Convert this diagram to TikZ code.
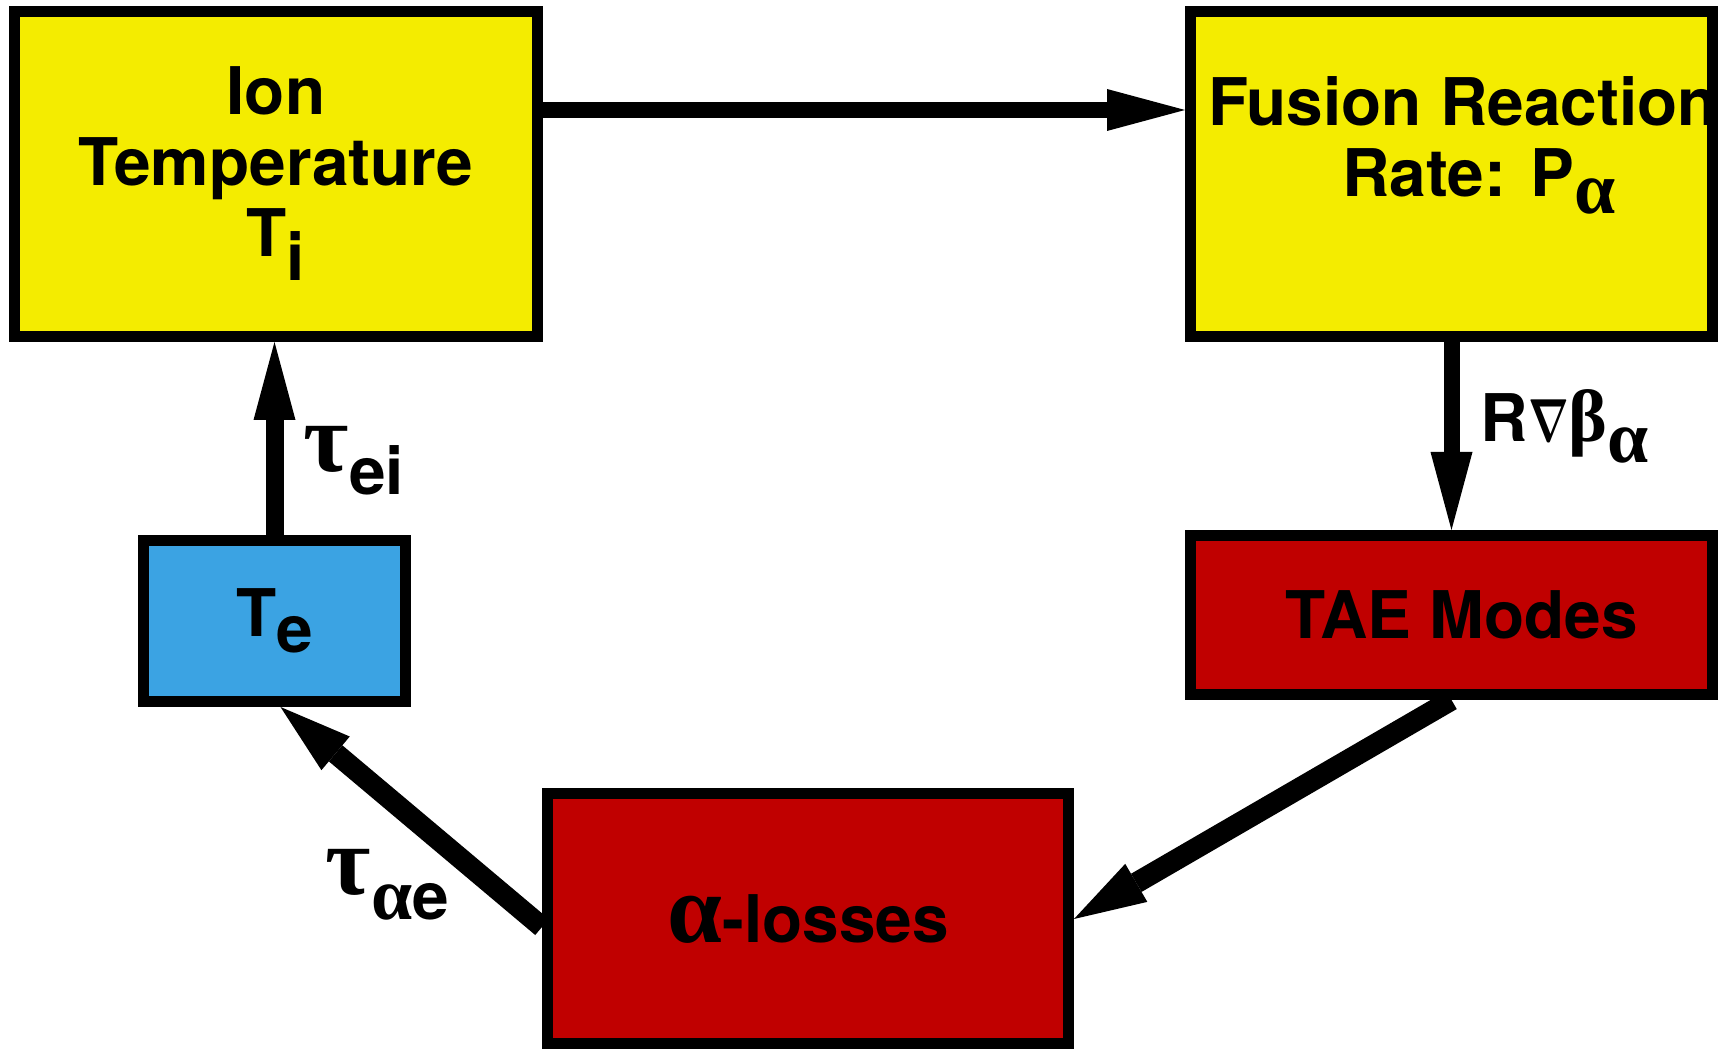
\documentclass[tikz,border=0pt]{standalone}
\usepackage{fontspec}
\usepackage{bm}
\setmainfont{TeX Gyre Heros}
\newfontfamily\grk{Liberation Serif}
\usetikzlibrary{arrows.meta,calc}
\definecolor{sun}{HTML}{F4EC00}
\definecolor{blood}{HTML}{C00000}
\definecolor{skyblue}{HTML}{3BA3E3}
\newcommand{\gk}[2][28]{{\grk\bfseries\fontsize{#1}{#1}\selectfont #2}}
\newcommand{\lo}[2][2.4mm]{\raisebox{-#1}{#2}}

\begin{document}
\begin{tikzpicture}[
  box/.style={draw=black, line width=1.1mm, inner sep=0pt, align=center,
    font=\fontsize{18.7}{20.2}\selectfont\bfseries},
  lbl/.style={inner sep=0pt, font=\fontsize{18.7}{20.2}\selectfont\bfseries},
  flow/.style={-{Triangle[length=7.8mm,width=4.2mm,line width=0pt]}, line width=1.6mm},
  fat/.style={-{Triangle[length=7.2mm,width=4.4mm,line width=0pt]}, line width=2.1mm}]
  \useasboundingbox (0,0) rectangle (17.19,-10.49);
  \fill[white] (0,0) rectangle (17.19,-10.49);

  % top row
  \node[box, fill=sun, minimum width=5.23cm, minimum height=3.25cm] (ion) at (2.76,-1.74) {Ion\\Temperature\\T\lo{i}};
  \node[box, fill=sun, minimum width=5.22cm, minimum height=3.25cm] (fus) at (14.515,-1.74) {};
  \node[lbl, align=center, anchor=north] (fustxt) at (14.63,-0.76) {Fusion Reaction\\\hspace*{3.2mm}Rate: P\lo[1.7mm]{\gk[21]{α}}};

  % lower boxes
  \node[box, fill=blood, minimum width=5.22cm, minimum height=1.59cm] (tae) at (14.515,-6.15) {\hspace*{2mm}TAE Modes};
  \node[box, fill=skyblue, minimum width=2.62cm, minimum height=1.61cm] (te) at (2.745,-6.21) {T\lo[1.6mm]{e}};
  \node[box, fill=blood, minimum width=5.21cm, minimum height=2.5cm] (alf) at (8.08,-9.19) {\gk{α}-losses};

  % arrows
  \draw[flow] ([yshift=6.4mm]ion.east) -- ([yshift=6.4mm]fus.west);
  \draw[flow] (fus.south) -- (tae.north);
  \draw[fat] (tae.south) -- (alf.east);
  \draw[fat] ([yshift=-0.8mm]alf.west) -- ([xshift=0.6mm]te.south);
  \draw[flow, line width=1.8mm] (te.north) -- (te.north |- ion.south);

  % labels
  \node[lbl, anchor=base west] (tauei) at (3.03,-4.72) {\gk{τ}\lo[2.3mm]{ei}};
  \node[lbl, anchor=base west] (tauae) at (3.25,-8.95) {\gk{τ}\lo[2.5mm]{\gk[21]{α}e}};
  \node[lbl, anchor=base west] (grad) at (14.8,-4.42) {R\scalebox{0.7}[1]{\fontsize{16}{16}\selectfont$\bm{\nabla}$}\gk[21]{β\lo[2.1mm]{α}}};
\end{tikzpicture}
\end{document}
